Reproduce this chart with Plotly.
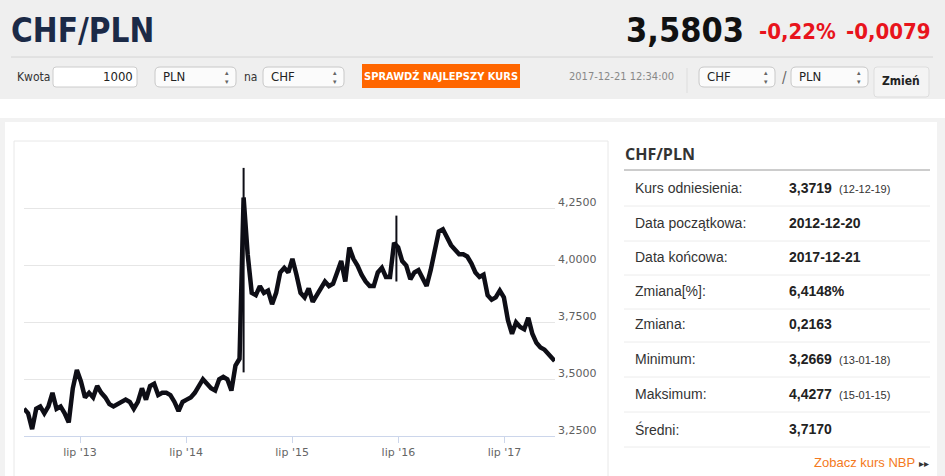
import pandas as pd
import plotly.graph_objects as go

W, H = 945, 476

# CHF/PLN close, every 14 days from 2012-12-20
close_vals = [
    3.37, 3.35, 3.28, 3.37, 3.38, 3.35, 3.38, 3.44, 3.37, 3.38,
    3.35, 3.31, 3.46, 3.54, 3.49, 3.42, 3.44, 3.42, 3.47, 3.44,
    3.42, 3.39, 3.38, 3.39, 3.40, 3.41, 3.40, 3.37, 3.40, 3.46,
    3.41, 3.47, 3.48, 3.43, 3.44, 3.44, 3.43, 3.40, 3.36, 3.40,
    3.41, 3.42, 3.44, 3.47, 3.50, 3.48, 3.46, 3.45, 3.50, 3.51,
    3.50, 3.45, 3.56, 3.59, 4.30, 4.05, 3.88, 3.87, 3.91, 3.88,
    3.89, 3.83, 3.88, 3.97, 3.99, 3.97, 4.03, 3.96, 3.88, 3.86,
    3.90, 3.84, 3.87, 3.90, 3.93, 3.91, 3.92, 3.97, 4.02, 3.93,
    4.08, 4.03, 4.00, 3.96, 3.93, 3.91, 3.91, 3.97, 3.99, 3.95,
    3.95, 4.10, 4.08, 4.02, 4.00, 3.94, 3.97, 3.98, 3.94, 3.91,
    3.98, 4.07, 4.15, 4.16, 4.12, 4.09, 4.07, 4.05, 4.05, 4.04,
    4.01, 3.97, 3.95, 3.96, 3.87, 3.85, 3.86, 3.89, 3.86, 3.76,
    3.70, 3.75, 3.73, 3.72, 3.77, 3.70, 3.66, 3.64, 3.63, 3.61,
    3.59,
]
last_date = "2017-12-21"
last_close = 3.5803

# the two big intraday wicks (SNB 2015, Brexit 2016)
wick_dates = ["2015-01-15", "2016-06-24"]
wick_low = [3.53, 3.93]
wick_high = [4.43, 4.22]

ytick_vals = [3.25, 3.5, 3.75, 4.0, 4.25]
xtick_dates = ["2013-07-01", "2014-07-01", "2015-07-01", "2016-07-01", "2017-07-01"]
xtick_text = ["lip '13", "lip '14", "lip '15", "lip '16", "lip '17"]

stat_labels = ["Kurs odniesienia:", "Data początkowa:", "Data końcowa:", "Zmiana[%]:",
               "Zmiana:", "Minimum:", "Maksimum:", "Średni:"]
stat_values = ["3,3719", "2012-12-20", "2017-12-21", "6,4148%", "0,2163", "3,2669", "4,4277", "3,7170"]
stat_dates = ["(12-12-19)", "", "", "", "", "(13-01-18)", "(15-01-15)", ""]

dates = list(pd.date_range("2012-12-20", periods=len(close_vals), freq="14D")) + [pd.Timestamp(last_date)]
closes = close_vals + [last_close]


def px(x):
    return x / W


def py(y):
    return 1 - y / H


shapes = []
annotations = []


def rect(x0, y0, x1, y1, fill, line=None, lw=1):
    shapes.append(dict(type="rect", xref="paper", yref="paper", layer="below",
                       x0=px(x0), x1=px(x1), y0=py(y1), y1=py(y0), fillcolor=fill,
                       line=dict(color=line if line else fill, width=lw if line else 0)))


def rrect(x0, y0, x1, y1, r, fill, line):
    X0, X1, Y0, Y1 = px(x0), px(x1), py(y0), py(y1)
    rx, ry = r / W, r / H
    path = (f"M {X0+rx},{Y0} L {X1-rx},{Y0} Q {X1},{Y0} {X1},{Y0-ry} L {X1},{Y1+ry} "
            f"Q {X1},{Y1} {X1-rx},{Y1} L {X0+rx},{Y1} Q {X0},{Y1} {X0},{Y1+ry} "
            f"L {X0},{Y0-ry} Q {X0},{Y0} {X0+rx},{Y0} Z")
    shapes.append(dict(type="path", xref="paper", yref="paper", layer="below", path=path,
                       fillcolor=fill, line=dict(color=line, width=1)))


def hline(x0, x1, y, color, lw=1):
    shapes.append(dict(type="line", xref="paper", yref="paper", layer="below",
                       x0=px(x0), x1=px(x1), y0=py(y), y1=py(y), line=dict(color=color, width=lw)))


def vline(x, y0, y1, color, lw=1):
    shapes.append(dict(type="line", xref="paper", yref="paper", layer="below",
                       x0=px(x), x1=px(x), y0=py(y0), y1=py(y1), line=dict(color=color, width=lw)))


def text(x, y, s, size, color, bold=False, family="Liberation Sans, Arial, sans-serif", anchor="left"):
    annotations.append(dict(xref="paper", yref="paper", x=px(x), y=py(y), showarrow=False,
                            text=f"<b>{s}</b>" if bold else s, xanchor=anchor, yanchor="middle",
                            font=dict(size=size, color=color, family=family)))


NARROW = "Liberation Sans Narrow, DejaVu Sans Condensed, Arial Narrow, sans-serif"

# page background
rect(0, 0, W, 99, "#efefef")
rect(0, 118, W, H, "#f2f2f2")
rect(5, 122, 937, H, "#ffffff")
hline(11, 933, 57, "#d4d4d4")

# header
text(9, 30, "CHF/PLN", 33, "#1b2a47", bold=True, family=NARROW)
text(746, 30, "3,5803", 34, "#111111", bold=True, family=NARROW, anchor="right")
text(838, 32, "-0,22%", 22, "#e8141c", bold=True, family=NARROW, anchor="right")
text(933, 32, "-0,0079", 22, "#e8141c", bold=True, family=NARROW, anchor="right")

# controls row
text(15, 77, "Kwota", 12, "#333333", family=NARROW)
rrect(53, 67, 137, 87, 3, "#ffffff", "#cccccc")
text(135, 77, "1000", 13, "#222222", family=NARROW, anchor="right")
for x0, x1, lab in [(155, 236, "PLN"), (263, 344, "CHF"), (699, 775, "CHF"), (791, 868, "PLN")]:
    rrect(x0, 67, x1, 87, 5, "#fbfbfb", "#c8c8c8")
    text(x0 + 6, 76, lab, 13, "#222222", family=NARROW)
    text(x1 - 9, 77, "▴<br>▾", 7, "#666666", anchor="center")
text(242, 77, "na", 12, "#333333", family=NARROW)
text(780, 78, "/", 15, "#666666", family=NARROW)
rect(362, 64, 520, 88, "#ff6600")
text(441, 76, "SPRAWDŹ NAJLEPSZY KURS", 11, "#ffffff", bold=True, family=NARROW, anchor="center")
text(676, 77, "2017-12-21 12:34:00", 11, "#888888", family=NARROW, anchor="right")
vline(687, 68, 93, "#dddddd")
rrect(874, 67, 929, 97, 3, "#f4f4f4", "#dddddd")
text(901, 81, "Zmień", 12, "#222222", bold=True, family=NARROW, anchor="center")

# chart box
hline(14, 608, 141, "#e8e8e8")
vline(14, 141, H, "#e8e8e8")
vline(608, 141, H, "#e8e8e8")

# right panel
text(623, 154, "CHF/PLN", 16, "#333333", bold=True, family="Open Sans, sans-serif")
hline(624, 930, 170, "#9a9a9a")
row_y = [188, 223, 257, 291, 324, 359, 394, 429]
for lab, val, dt, y in zip(stat_labels, stat_values, stat_dates, row_y):
    text(633, y, lab, 14, "#333333")
    text(787, y, val, 14, "#222222", bold=True)
    if dt:
        text(837, y + 1, dt, 11, "#333333")
    hline(624, 930, y + 18, "#ececec")
text(917, 462, "Zobacz kurs NBP", 13, "#f47920", anchor="right")
text(931, 463, "▸▸", 10, "#333333", anchor="right")

fig = go.Figure()
fig.add_trace(go.Scatter(x=dates, y=closes, mode="lines",
                         line=dict(color="#0e0e16", width=4.5), hoverinfo="skip"))
wx, wy = [], []
for d, lo, hi in zip(wick_dates, wick_low, wick_high):
    wx += [d, d, None]
    wy += [lo, hi, None]
fig.add_trace(go.Scatter(x=wx, y=wy, mode="lines", line=dict(color="#0e0e16", width=2), hoverinfo="skip"))

for v in ytick_vals:
    annotations.append(dict(xref="paper", yref="y", x=px(556), y=v, yshift=6, showarrow=False,
                            text=f"{v:.4f}".replace(".", ","), xanchor="left", yanchor="middle",
                            font=dict(size=11, color="#606060", family="DejaVu Sans, Verdana, sans-serif")))

fig.update_layout(
    width=W, height=H, margin=dict(l=0, r=0, t=0, b=0),
    paper_bgcolor="#ffffff", plot_bgcolor="rgba(0,0,0,0)",
    showlegend=False, shapes=shapes, annotations=annotations,
    xaxis=dict(domain=[px(24), px(555)], range=["2012-12-20", "2017-12-22"], showgrid=False,
               showline=True, linecolor="#ccd6eb", ticks="outside", tickcolor="#ccd6eb", ticklen=6,
               tickvals=xtick_dates, ticktext=xtick_text, zeroline=False,
               tickfont=dict(size=11, color="#666666", family="DejaVu Sans, Verdana, sans-serif")),
    yaxis=dict(domain=[py(436), py(152)], range=[3.25, 4.5], tickvals=ytick_vals + [4.5],
               showticklabels=False, gridcolor="#e6e6e6", gridwidth=1, zeroline=False),
)

fig.write_html("out.html", config={"displayModeBar": False},
               post_script="document.body.style.margin='0';")
